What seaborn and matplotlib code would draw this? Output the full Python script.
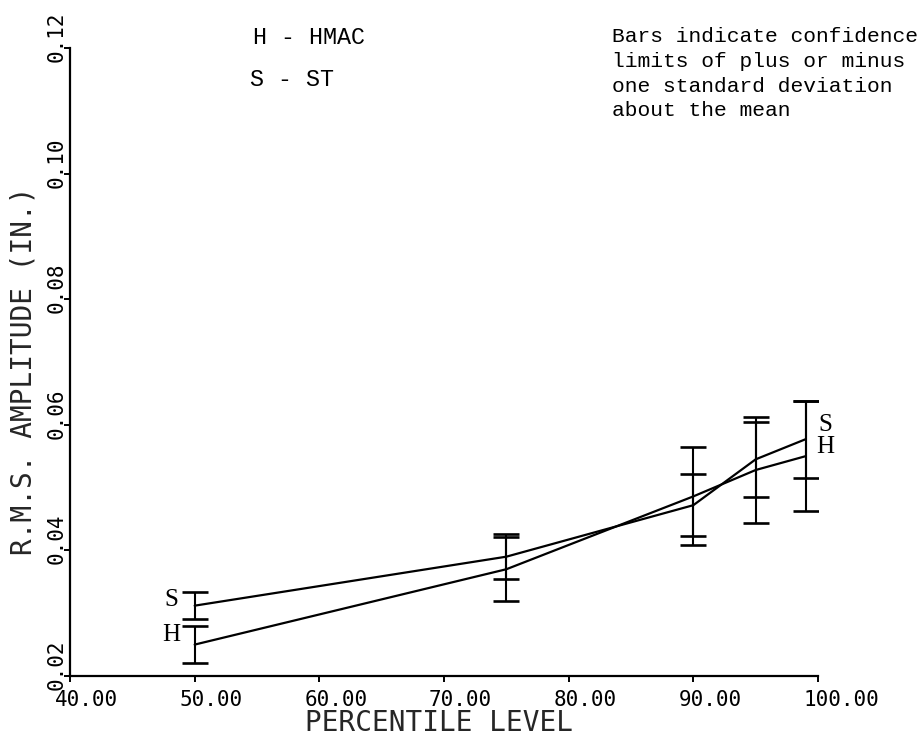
import matplotlib
matplotlib.use("Agg")
import matplotlib.pyplot as plt
from matplotlib.transforms import ScaledTranslation
import seaborn as sns
import pandas as pd

# Percentile levels and RMS amplitude statistics (inches)
percentile = [50, 75, 90, 95, 99]
hmac_mean = [0.0250, 0.0370, 0.0486, 0.0528, 0.0550]
hmac_sd = [0.0030, 0.0051, 0.0078, 0.0084, 0.0088]
st_mean = [0.0312, 0.0390, 0.0472, 0.0545, 0.0577]
st_sd = [0.0022, 0.0036, 0.0049, 0.0060, 0.0061]

x_ticks = [40, 50, 60, 70, 80, 90, 100]
x_tick_labels = ["40.00", "50.00", "60.00", "70.00", "80.00", "90.00", "100.00"]
y_ticks = [0.02, 0.04, 0.06, 0.08, 0.10, 0.12]
y_tick_labels = ["0.02", "0.04", "0.06", "0.08", "0.10", "0.12"]

sns.set_style("ticks")
plt.rcParams["font.family"] = ["DejaVu Sans Mono", "DejaVu Sans"]

df = pd.DataFrame({
    "percentile": percentile * 2,
    "amplitude": hmac_mean + st_mean,
    "series": ["HMAC"] * len(percentile) + ["ST"] * len(percentile),
})

fig = plt.figure(figsize=(9.22, 7.39), dpi=100)
ax = fig.add_axes([70 / 922, 1 - 676 / 739, 748 / 922, 628 / 739])

sns.lineplot(data=df, x="percentile", y="amplitude", hue="series",
             palette={"HMAC": "black", "ST": "black"}, estimator=None,
             sort=False, legend=False, linewidth=1.6, ax=ax)

for means, sds in ((hmac_mean, hmac_sd), (st_mean, st_sd)):
    ax.errorbar(percentile, means, yerr=sds, fmt="none", ecolor="black",
                elinewidth=1.5, capsize=9.4, capthick=1.9, zorder=3)

ax.set_xlim(40, 100)
ax.set_ylim(0.02, 0.12)

sns.despine(ax=ax)
for side in ("left", "bottom"):
    ax.spines[side].set_linewidth(1.6)
    ax.spines[side].set_color("black")

ax.tick_params(axis="both", direction="out", length=4, width=1.4,
               colors="black", labelsize=15)
ax.tick_params(axis="x", pad=6)
ax.tick_params(axis="y", pad=1)

ax.set_xticks(x_ticks, x_tick_labels, ha="left")
ax.set_yticks(y_ticks, y_tick_labels, rotation=90, rotation_mode="anchor",
              ha="left", va="baseline")
for lab in ax.get_xticklabels():
    lab.set_transform(lab.get_transform() +
                      ScaledTranslation(-0.15, 0, fig.dpi_scale_trans))
for lab in ax.get_yticklabels():
    lab.set_transform(lab.get_transform() +
                      ScaledTranslation(0, -0.14, fig.dpi_scale_trans))

ax.set_xlabel("PERCENTILE LEVEL", fontsize=20, va="center")
ax.xaxis.set_label_coords((439 - 70) / 748, (676 - 723) / 628)
ax.set_ylabel("R.M.S. AMPLITUDE (IN.)", fontsize=20, va="center")
ax.yaxis.set_label_coords((24 - 70) / 748, (676 - 371) / 628)

# Series tags beside the curves
tag_font = dict(family="Liberation Serif", fontsize=18, color="black",
                ha="center", va="center", clip_on=False)
ax.text(48.1, 0.0321, "S", **tag_font)
ax.text(48.1, 0.0265, "H", **tag_font)
ax.text(100.6, 0.0599, "S", **tag_font)
ax.text(100.6, 0.0564, "H", **tag_font)

# Key and note
key_font = dict(family="Liberation Mono", fontsize=16.8, color="black",
                ha="left", va="center")
fig.text(253 / 922, 1 - 37 / 739, "H - HMAC", **key_font)
fig.text(250 / 922, 1 - 80 / 739, "S - ST", **key_font)

note_font = dict(family="Liberation Mono", fontsize=15.3, color="black",
                 ha="left", va="center")
note_lines = ["Bars indicate confidence", "limits of plus or minus",
              "one standard deviation", "about the mean"]
for i, line in enumerate(note_lines):
    fig.text(612 / 922, 1 - (37 + 24.5 * i) / 739, line, **note_font)

fig.savefig("out.png", dpi=100, facecolor="white")
